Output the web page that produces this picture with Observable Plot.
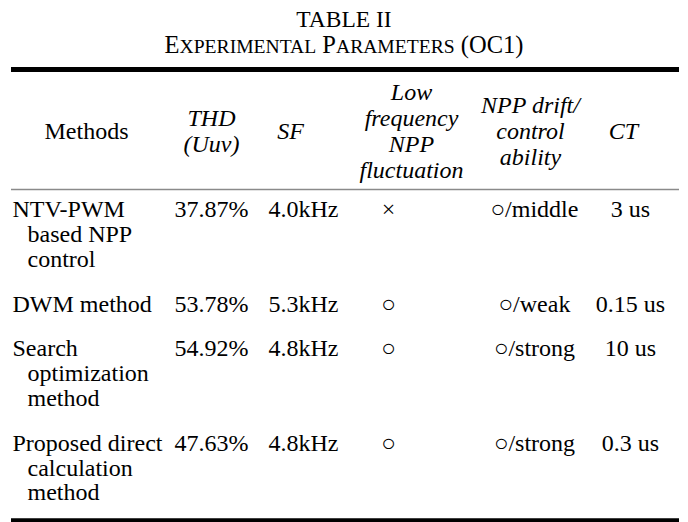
<!DOCTYPE html>
<html>
<head>
<meta charset="utf-8">
<script src="https://cdn.jsdelivr.net/npm/d3@7"></script>
<script src="https://cdn.jsdelivr.net/npm/@observablehq/plot@0.6"></script>
<style>
  html, body { margin: 0; padding: 0; background: #fff; }
  body { font-family: "Liberation Serif", serif; color: #000; width: 688px; }
  #title { text-align: center; font-size: 23.5px; line-height: 26px; height: 26px; padding-top: 6px; }
  #subtitle { text-align: center; font-size: 24.5px; line-height: 26px; height: 26px; }
  #subtitle .sc { font-size: 0.8em; }
  #chart svg { display: block; font-family: "Liberation Serif", serif !important; }
  #chart svg text, #chart svg g { font-family: "Liberation Serif", serif !important; }
</style>
</head>
<body>
<div id="title"></div>
<div id="subtitle"></div>
<div id="chart"></div>
<script>
// ---- data ----
const tableTitle = "TABLE II";
const tableSubtitle = "EXPERIMENTAL PARAMETERS (OC1)";
const columns = ["Methods", "THD (Uuv)", "SF", "Low frequency NPP fluctuation", "NPP drift/ control ability", "CT"];
const headerLines = [
  ["Methods"],
  ["THD", "(Uuv)"],
  ["SF"],
  ["Low", "frequency", "NPP", "fluctuation"],
  ["NPP drift/", "control", "ability"],
  ["CT"]
];
const methods = [
  ["NTV-PWM", "based NPP", "control"],
  ["DWM method"],
  ["Search", "optimization", "method"],
  ["Proposed direct", "calculation", "method"]
];
const thd = ["37.87%", "53.78%", "54.92%", "47.63%"];
const sf = ["4.0kHz", "5.3kHz", "4.8kHz", "4.8kHz"];
const lowFreqFluctuation = ["×", "○", "○", "○"];
const driftControl = ["○/middle", "○/weak", "○/strong", "○/strong"];
const ct = ["3 us", "0.15 us", "10 us", "0.3 us"];

// ---- layout (not data) ----
const W = 688, H = 464;
const FONT = "Liberation Serif";
const FS = 24;
const left = 11, right = 679, indent = 15;
const headerX = [86, 211, 290, 411, 530, 623];
const valueX  = [left + 1, 211, 303, 388, 534, 630];
const topRule = 11, headerCenter = 73, headerPitch = 26, midRule = 131;
const bodyStart = 151, bodyPitch = 24.8, rowGap = 44.8, bottomRuleGap = 28;

// titles
document.getElementById("title").textContent = tableTitle;
document.getElementById("subtitle").innerHTML = tableSubtitle.split(" ").map(w =>
  w.startsWith("(") ? w : w[0] + `<span class="sc">${w.slice(1)}</span>`).join(" ");

// header cells
const headerCells = [];
headerLines.forEach((lines, c) => {
  const n = lines.length;
  lines.forEach((t, k) => headerCells.push({
    x: headerX[c], y: headerCenter + (k - (n - 1) / 2) * headerPitch, text: t, italic: c > 0
  }));
});

// body cells
const bodyCells = [];
const valueCols = [thd, sf, lowFreqFluctuation, driftControl, ct];
let lineY = bodyStart;
methods.forEach((lines, r) => {
  lines.forEach((t, k) => bodyCells.push({
    x: k === 0 ? valueX[0] : valueX[0] + indent, y: lineY + k * bodyPitch, text: t, anchor: "start"
  }));
  valueCols.forEach((col, c) => bodyCells.push({
    x: valueX[c + 1], y: lineY, text: col[r], anchor: "middle"
  }));
  lineY += (lines.length - 1) * bodyPitch + (r < methods.length - 1 ? rowGap : bottomRuleGap);
});
const bottomRule = lineY;

const textOpts = { x: "x", y: "y", text: "text", fontSize: FS, fontFamily: FONT, fill: "#000" };

const chart = Plot.plot({
  width: W, height: H,
  marginTop: 0, marginRight: 0, marginBottom: 0, marginLeft: 0,
  x: { domain: [0, W], range: [0, W], axis: null },
  y: { domain: [0, H], range: [0, H], axis: null },
  marks: [
    Plot.ruleY([topRule], { x1: left, x2: right, stroke: "#000", strokeWidth: 5 }),
    Plot.ruleY([midRule], { x1: left, x2: right, stroke: "#8a8a8a", strokeWidth: 1.5 }),
    Plot.ruleY([bottomRule], { x1: left, x2: right, stroke: "#000", strokeWidth: 5 }),
    Plot.text(headerCells.filter(d => !d.italic), { ...textOpts, textAnchor: "middle" }),
    Plot.text(headerCells.filter(d => d.italic), { ...textOpts, fontStyle: "italic", textAnchor: "middle" }),
    Plot.text(bodyCells.filter(d => d.anchor === "start"), { ...textOpts, textAnchor: "start" }),
    Plot.text(bodyCells.filter(d => d.anchor === "middle"), { ...textOpts, textAnchor: "middle" })
  ]
});
document.getElementById("chart").appendChild(chart);
</script>
</body>
</html>
